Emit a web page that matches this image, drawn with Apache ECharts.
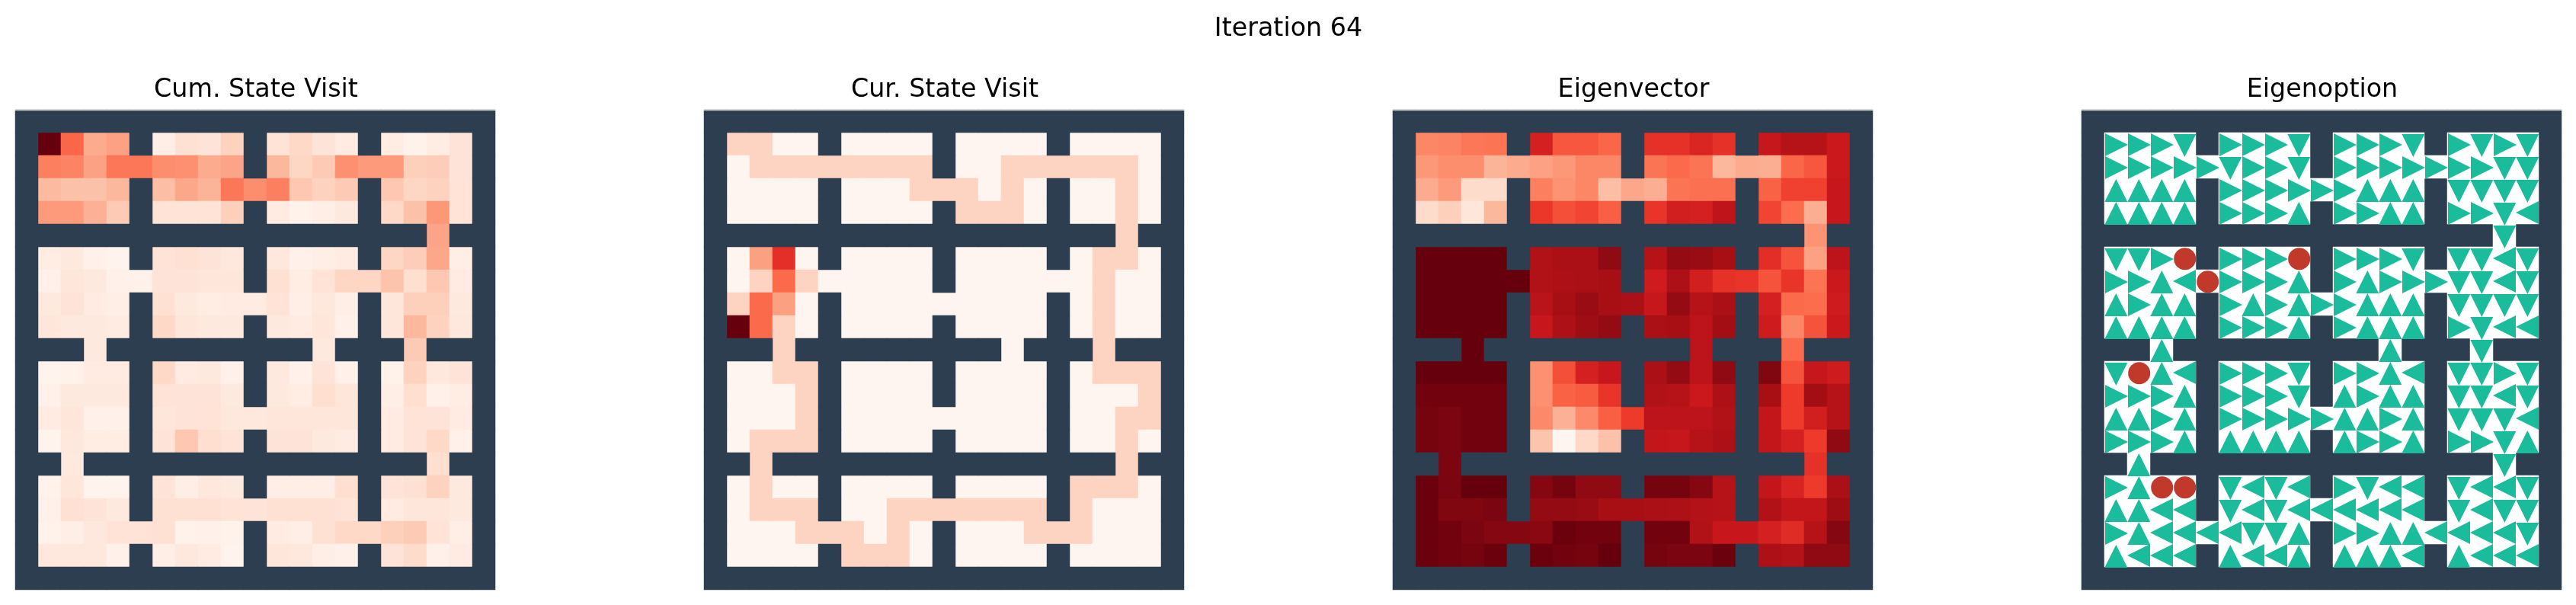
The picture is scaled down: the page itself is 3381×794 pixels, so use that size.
<!DOCTYPE html>
<html>
<head>
<meta charset="utf-8">
<style>html,body{margin:0;padding:0;background:#fff}#c{width:3381px;height:794px}</style>
<script src="https://cdn.jsdelivr.net/npm/echarts@6/dist/echarts.min.js"></script>
</head>
<body>
<div id="c"></div>
<script>
const suptitle = 'Iteration 64';
const panelTitles = ['Cum. State Visit', 'Cur. State Visit', 'Eigenvector', 'Eigenoption'];
const reds = ['#fff5f0','#fee0d2','#fcbba1','#fc9272','#fb6a4a','#ef3b2c','#cb181d','#a50f15','#67000d'];
const colors = { wall:'#2c3e50', floor:'#ffffff', arrow:'#1abc9c', goal:'#c0392b' };

// '#' wall, '.' floor
const maze = [
'#####################',
'#....#....#....#....#',
'#.........#.........#',
'#....#.........#....#',
'#....#....#....#....#',
'##################.##',
'#....#....#....#....#',
'#.........#.........#',
'#....#.........#....#',
'#....#....#....#....#',
'###.#########.###.###',
'#....#....#....#....#',
'#....#....#....#....#',
'#....#.........#....#',
'#....#....#....#....#',
'##.###############.##',
'#....#....#....#....#',
'#....#.........#....#',
'#.........#.........#',
'#....#....#....#....#',
'#####################'
];

// Cumulative visits, % of scale (one row per floor row; walls are skipped)
const cumVisit = [
[100,51,30,33, 4,12,10,17, 11,15,10,6, 5,2,5,10],
[43,42,33,46,46, 39,38,30,32, 26,16,20,38,35,35, 18,19,10],
[25,23,23,26, 24,31,27,46,39,43,21,17,20, 21,16,17,11],
[35,35,28,20, 11,11,11,18, 6,2,4,7, 15,23,36,11],
[32],
[5,7,3,1, 11,12,10,8, 8,3,4,6, 16,19,31,4],
[3,9,7,3,2, 10,10,9,9, 12,5,11,16,16, 22,13,21,6],
[7,10,6,4, 12,7,5,6,6, 11,4,8,4, 9,18,18,7],
[9,7,7,6, 15,9,7,7, 7,6,9,3, 9,26,17,8],
[7,7,20],
[1,2,6,6, 15,6,7,3, 7,3,10,3, 2,17,8,10],
[3,7,7,7, 11,10,10,7, 7,5,13,9, 4,13,3,5],
[6,9,3,3, 9,10,11,8,8, 9,9,9,9, 6,11,10,6],
[1,8,5,5, 10,21,13,11, 10,10,7,6, 6,10,15,3],
[7,13],
[2,9,1,1, 10,4,8,7, 4,4,4,13, 10,12,17,7],
[3,12,10,7, 12,12,12,11,10, 12,12,12,11, 6,9,9,7],
[2,4,8,11,11, 12,2,3,2, 6,4,12,15,15, 18,20,11,4],
[8,8,8,3, 4,8,6,1, 9,8,4,3, 10,14,3,6]
];

// Current episode visit counts (max 6)
const curVisit = [
[1,1,0,0, 0,0,0,0, 0,0,0,0, 0,0,0,0],
[0,1,1,1,1, 1,1,1,1, 0,0,1,1,1, 1,1,1,0],
[0,0,0,0, 0,0,0,1,1,1,0,1,0, 0,0,1,0],
[0,0,0,0, 0,0,0,0, 1,1,1,0, 0,0,1,0],
[1],
[0,2,4,0, 0,0,0,0, 0,0,0,0, 0,1,1,0],
[0,1,3,1,0, 0,0,0,0, 0,0,0,0,0, 0,1,0,0],
[1,3,2,0, 0,0,0,0,0, 0,0,0,0, 0,1,0,0],
[6,3,1,0, 0,0,0,0, 0,0,0,0, 0,1,0,0],
[1,0,1],
[0,0,1,1, 0,0,0,0, 0,0,0,0, 0,1,1,1],
[0,0,0,1, 0,0,0,0, 0,0,0,0, 0,0,0,1],
[0,0,0,1, 0,0,0,0,0, 0,0,0,0, 0,0,1,1],
[0,1,1,1, 0,0,0,0, 0,0,0,0, 0,0,1,0],
[1,1],
[0,1,0,0, 0,0,0,0, 0,0,0,0, 1,1,1,0],
[0,1,1,1, 0,0,1,1,1, 1,1,1,1, 1,0,0,0],
[0,0,0,1,1, 1,0,1,0, 0,0,0,1,1, 1,0,0,0],
[0,0,0,0, 1,1,1,0, 0,0,0,0, 0,0,0,0]
];
const curVisitMax = 6;

// Eigenvector, % of scale
const eigenvector = [
[41,42,46,47, 72,55,55,51, 66,66,70,66, 77,82,82,75],
[36,39,39,27,30, 33,36,41,41, 47,50,47,26,30, 29,51,55,75],
[30,35,14,14, 43,37,41,24,31,29,47,48,48, 52,61,61,76],
[14,18,9,26, 64,57,60,53, 65,73,72,79, 60,49,29,76],
[37],
[100,100,100,100, 84,86,86,92, 82,91,90,87, 67,56,33,80],
[100,100,100,100,100, 84,85,86,87, 74,85,73,66,65, 56,65,47,75],
[100,100,100,100, 81,87,90,87,86, 77,91,82,86, 72,50,49,74],
[100,100,100,100, 76,85,89,91, 86,87,80,88, 74,41,56,75],
[100,80,50],
[100,100,100,100, 38,57,72,76, 86,91,80,92, 95,56,77,74],
[98,98,98,98, 38,52,54,65, 84,82,75,85, 87,63,88,82],
[97,96,98,98, 40,28,40,53,63, 80,80,80,84, 78,63,73,82],
[97,96,98,98, 22,0,15,23, 78,77,82,85, 78,72,63,92],
[96,66],
[99,96,100,100, 94,97,92,92, 97,97,94,82, 78,71,63,86],
[99,95,95,96, 91,91,90,87,87, 86,85,83,82, 84,78,78,89],
[99,98,96,94,94, 93,99,98,98, 98,98,84,76,76, 72,68,82,94],
[99,98,97,99, 99,98,97,100, 97,96,96,99, 85,83,92,92]
];

// Eigenoption policy: R/D/U/L arrows, O terminal
const policy = [
'RRRD RRRD RRRD RDRD',
'RRRRRDRRD RRRRRRRDD',
'UUUU RRRRRRUUU DDDD',
'UUUU RRRU RRUU RRDL',
'D',
'DDRO RRRO RRRD DDLD',
'RRULORRRU RURRRDDLD',
'URUU RURURRUUU DDDD',
'UUUU RRRU RUUU RDLL',
'UUD',
'DOUL RRRD RRUL DDRD',
'RRRU RRRD URUU DDLD',
'UURU RRRRRUURU DDDL',
'RRRU UUUU URRU RRDU',
'UD',
'RUOO DLDL RDLL DLLD',
'UULL DLDLLLLLL DLDD',
'RULLLLDDU RRUULLLLD',
'ULLL ULLU UUUL ULLL'
].map(s => s.replace(/ /g, ''));

const lefts = [20, 924, 1828, 2732];
const gridTop = 144, gridSize = 630, N = 21;
const idx = Array.from({length:N}, (_v,i)=>String(i));

// Walk the maze and pair each floor cell with the next value of a row
function floorCells(rows) {
  const out = [];
  let ri = -1;
  maze.forEach((line, y) => {
    if (y === 0 || y === N-1) return;
    ri++;
    let k = 0;
    for (let x = 0; x < N; x++) if (line[x] === '.') out.push([x, y, rows ? rows[ri][k++] : 0]);
  });
  return out;
}
function wallCells() {
  const out = [];
  maze.forEach((line, y) => { for (let x = 0; x < N; x++) if (line[x] === '#') out.push([x, y, 1]); });
  return out;
}
function policyCells(ch) {
  const out = [];
  let ri = -1;
  maze.forEach((line, y) => {
    if (y === 0 || y === N-1) return;
    ri++;
    let k = 0;
    for (let x = 0; x < N; x++) if (line[x] === '.') { if (policy[ri][k] === ch) out.push([x, y]); k++; }
  });
  return out;
}

const grids = lefts.map(l => ({left:l, top:gridTop, width:gridSize, height:gridSize, containLabel:false}));
const xAxes = lefts.map((_l,i) => ({type:'category', gridIndex:i, data:idx, show:false}));
const yAxes = lefts.map((_l,i) => ({type:'category', gridIndex:i, data:idx, show:false, inverse:true}));

const series = [];
function heat(i, data, color) {
  const s = {type:'heatmap', xAxisIndex:i, yAxisIndex:i, data, silent:true, progressive:0, itemStyle:{borderWidth:0}, emphasis:{disabled:true}};
  if (color) s.itemStyle.color = color;
  series.push(s);
  return series.length - 1;
}
const mapped = [
  heat(0, floorCells(cumVisit).map(d => [d[0], d[1], d[2]/100])),
  heat(1, floorCells(curVisit).map(d => [d[0], d[1], d[2]/curVisitMax])),
  heat(2, floorCells(eigenvector).map(d => [d[0], d[1], d[2]/100]))
];
[0,1,2,3].forEach(i => heat(i, wallCells(), colors.wall));
heat(3, floorCells(null), colors.floor);

function arrows(ch, rot, offset) {
  series.push({type:'scatter', xAxisIndex:3, yAxisIndex:3, data:policyCells(ch), silent:true,
    symbol:'triangle', symbolSize:30, symbolRotate:rot, symbolOffset:offset,
    itemStyle:{color:colors.arrow, opacity:1}, emphasis:{disabled:true}, z:5});
}
arrows('U', 0, [0.3, 1]);
arrows('D', 180, [0.3, 2]);
arrows('R', -90, [1, 1]);
arrows('L', 90, [0, 0]);
series.push({type:'scatter', xAxisIndex:3, yAxisIndex:3, data:policyCells('O'), silent:true,
  symbol:'circle', symbolSize:29, symbolOffset:[0.7,0.7],
  itemStyle:{color:colors.goal, opacity:1}, emphasis:{disabled:true}, z:5});

const titleStyle = {fontFamily:'DejaVu Sans', fontSize:33.33, fontWeight:'normal', color:'#000'};
const titles = [{text:suptitle, left:1686, top:17, textAlign:'center', textStyle:titleStyle}]
  .concat(panelTitles.map((t,i) => ({text:t, left:lefts[i]+gridSize/2-4, top:97, textAlign:'center', textStyle:titleStyle})));

const chart = echarts.init(document.getElementById('c'), null, {renderer:'canvas', width:3381, height:794});
chart.setOption({
  animation:false,
  backgroundColor:'#ffffff',
  title:titles,
  grid:grids,
  xAxis:xAxes,
  yAxis:yAxes,
  visualMap:{type:'continuous', show:false, min:0, max:1, seriesIndex:mapped, inRange:{color:reds}},
  graphic:[{type:'rect', shape:{x:0, y:gridTop, width:3381, height:1}, style:{fill:'#ffffff'}, z:100, silent:true}],
  series
});
</script>
</body>
</html>
